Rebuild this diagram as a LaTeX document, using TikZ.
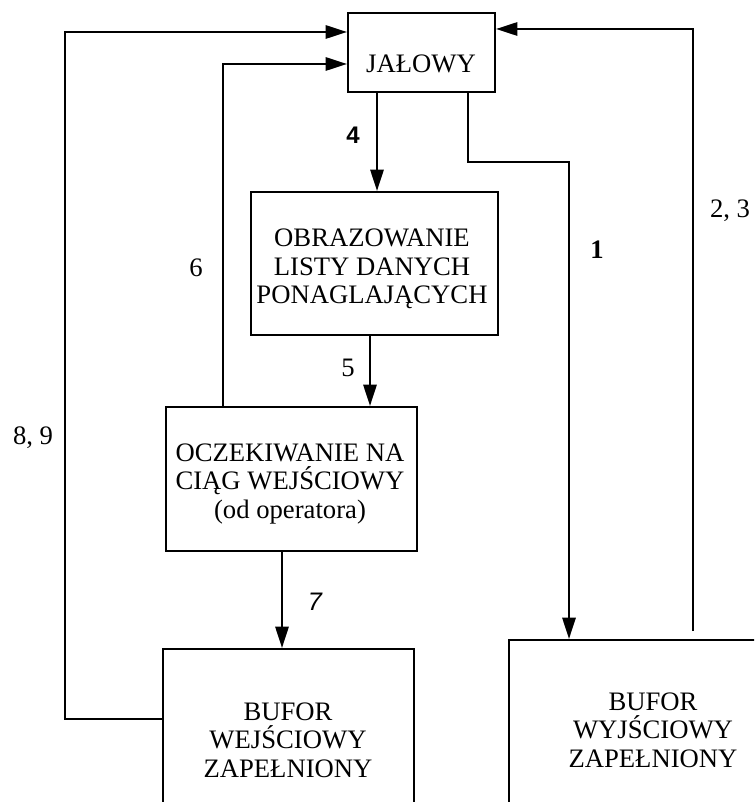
\documentclass[tikz,border=0pt]{standalone}
\usepackage{fontspec}
\setmainfont{Liberation Serif}
\setsansfont{Liberation Sans}
\usetikzlibrary{arrows.meta}
\begin{document}
\begin{tikzpicture}[x=0.75pt,y=-0.75pt,
  box/.style={draw, line width=1.6pt, inner sep=0pt},
  txt/.style={align=center, font=\fontsize{20}{21.5}\selectfont, inner sep=0pt},
  num/.style={font=\fontsize{20}{22}\selectfont, inner sep=0pt},
  conn/.style={line width=1.5pt},
  arr/.style={conn, -{Triangle[length=16pt,width=10pt]}}]
\useasboundingbox (0,0) rectangle (754,802);
\clip (0,0) rectangle (754,802);
% boxes
\node[box, minimum width=110.25pt, minimum height=59.25pt] (JAL) at (421.5,52.5) {};
\node[box, minimum width=185.25pt, minimum height=107.25pt] (OBR) at (374.5,263.5) {};
\node[box, minimum width=188.25pt, minimum height=108pt] (OCZ) at (291.5,479) {};
\node[box, minimum width=188.25pt, minimum height=135pt] (BWE) at (288.5,739) {};
\node[box, minimum width=216pt, minimum height=135pt] (BWY) at (653,730) {};
% texts
\node[txt] (tJAL) at (421,64) {JAŁOWY};
\node[txt] (tOBR) at (372,269) {OBRAZOWANIE\\LISTY DANYCH\\PONAGLAJĄCYCH};
\node[txt] (tOCZ) at (290,484) {OCZEKIWANIE NA\\CIĄG WEJŚCIOWY\\(od operatora)};
\node[txt] (tBWE) at (288,740) {BUFOR\\WEJŚCIOWY\\ZAPEŁNIONY};
\node[txt] (tBWY) at (653,730) {BUFOR\\WYJŚCIOWY\\ZAPEŁNIONY};
% connector coordinates
\coordinate (c4) at (377,0);
\coordinate (c5) at (370,0);
\coordinate (c7) at (282,0);
\coordinate (c1a) at (468,162);
\coordinate (c1b) at (569,162);
\coordinate (c23a) at (693,631);
\coordinate (c23b) at (693,29);
\coordinate (c6) at (223,64);
\coordinate (c89a) at (65,719);
\coordinate (c89b) at (65,32);
% connectors
\draw[arr] (JAL.south -| c4) -- (OBR.north -| c4);
\draw[arr] (OBR.south -| c5) -- (OCZ.north -| c5);
\draw[arr] (OCZ.south -| c7) -- (BWE.north -| c7);
\draw[arr] (JAL.south -| c1a) -- (c1a) -- (c1b) -- (BWY.north -| c1b);
\draw[arr] (c23a) -- (c23b) -- (JAL.east |- c23b);
\draw[arr] (OCZ.north -| c6) -- (c6) -- (JAL.west |- c6);
\draw[arr] (BWE.west |- c89a) -- (c89a) -- (c89b) -- (JAL.west |- c89b);
% labels
\node[num, font={\sffamily\bfseries\fontsize{18}{20}\selectfont}] (l4) at (353,135) {4};
\node[num] (l5) at (348,368) {5};
\node[num] (l6) at (196,268) {6};
\node[num, font={\bfseries\fontsize{20}{22}\selectfont}] (l1) at (597,250) {1};
\node[num] (l23) at (730,211) {2, 3};
\node[num, font={\sffamily\itshape\fontsize{19}{21}\selectfont}] (l7) at (315,602) {7};
\node[num] (l89) at (33,438) {8, 9};
\end{tikzpicture}
\end{document}
